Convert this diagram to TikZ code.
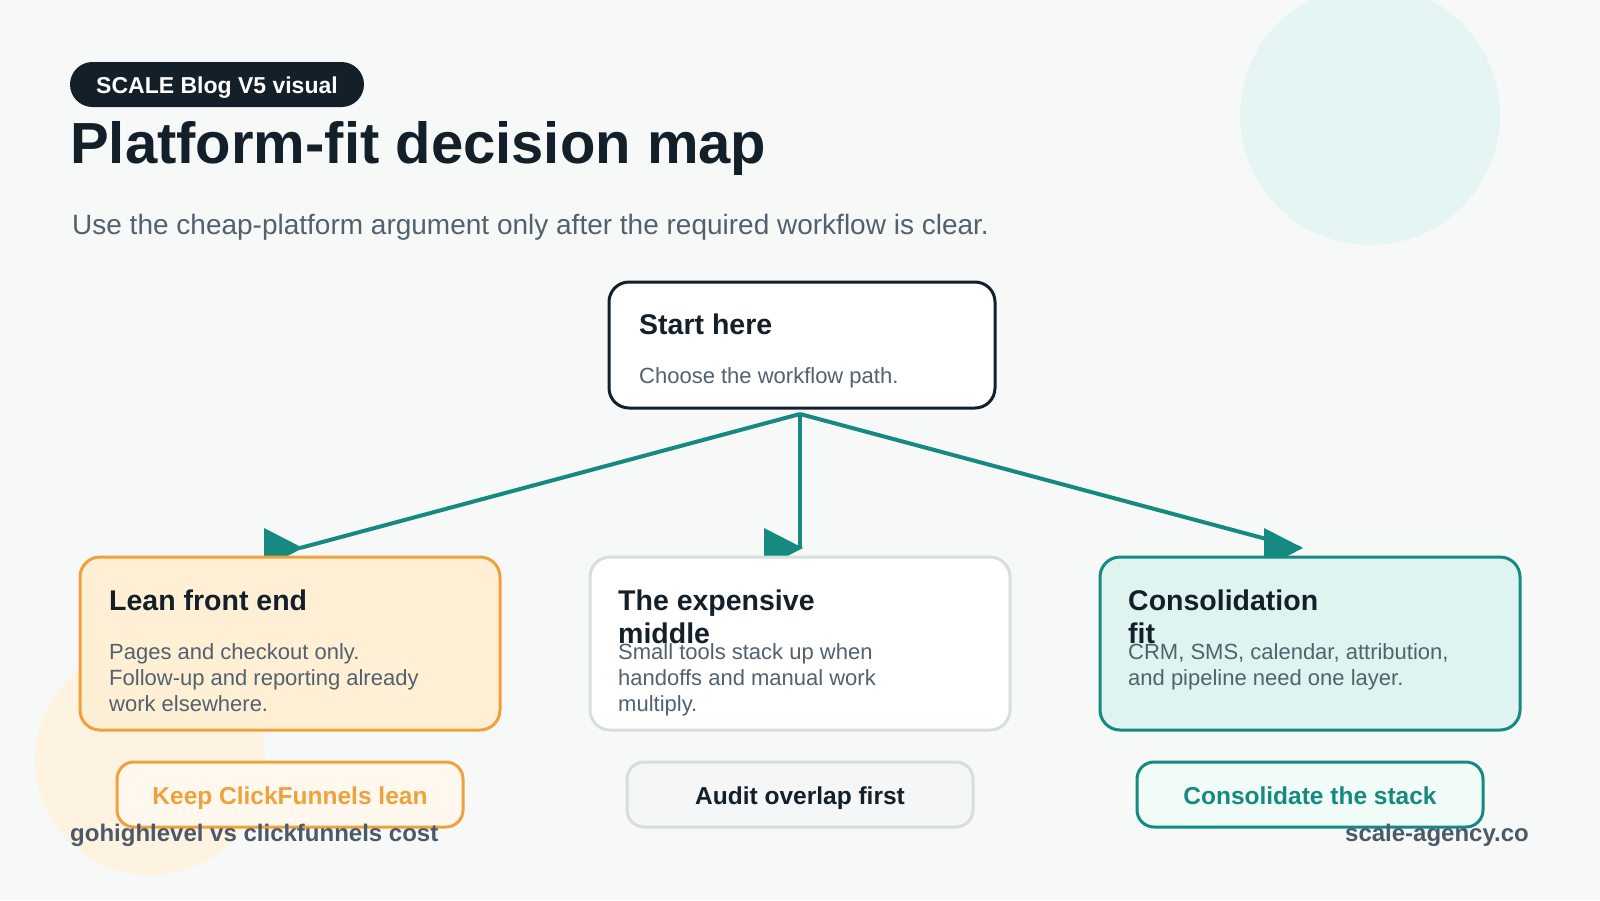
\documentclass[tikz,border=0pt]{standalone}
\usepackage{fontspec}
\setmainfont{Liberation Sans}
\usepackage{tikz}
\usetikzlibrary{calc,positioning}

\definecolor{bgpage}{HTML}{F7F9F9}
\definecolor{ink}{HTML}{13202A}
\definecolor{slate}{HTML}{52616E}
\definecolor{foot}{HTML}{4B5A68}
\definecolor{tealline}{HTML}{168A80}
\definecolor{amber}{HTML}{EFA23C}
\definecolor{amberfill}{HTML}{FFEFD4}
\definecolor{amberpill}{HTML}{FFF8EE}
\definecolor{mintfill}{HTML}{DFF4F0}
\definecolor{mintpill}{HTML}{F1FCF9}
\definecolor{mist}{HTML}{D6DFDD}
\definecolor{mistpill}{HTML}{F4F6F8}
\definecolor{bubbleA}{HTML}{E5F5F3}
\definecolor{bubbleB}{HTML}{FEF2E0}

\begin{document}
\begin{tikzpicture}[x=1pt,y=-1pt]
	\tikzstyle{card} = [draw, rounded corners=20pt, line width=3pt, minimum width=420pt, minimum height=173pt, inner sep=0pt]
	\tikzstyle{pill} = [draw, rounded corners=17pt, line width=3pt, minimum width=346pt, minimum height=65pt, inner sep=0pt, text height=24pt, text depth=5pt, font=\fontsize{24.5}{28}\selectfont\bfseries]
	\tikzstyle{head} = [anchor=base west, inner sep=0pt, align=left, text=ink, font=\fontsize{28.5}{33}\selectfont\bfseries]
	\tikzstyle{body} = [anchor=base west, inner sep=0pt, align=left, text=slate, font=\fontsize{22}{26}\selectfont]
	\tikzstyle{link} = [draw=tealline, line width=4pt]
% page and bubbles
\useasboundingbox (0,0) rectangle (1600,900);
\fill[bgpage] (0,0) rectangle (1600,900);
\fill[bubbleA] (1370,115) circle (130);
\fill[bubbleB] (150,760) circle (115);
% header
\node[fill=ink, text=white, rounded corners=22.5pt, minimum width=294pt, minimum height=45pt, inner sep=0pt, text height=21pt, text depth=4pt, font=\fontsize{23}{26}\selectfont\bfseries] (tag) at (217,84.5) {SCALE Blog V5 visual};
\node[anchor=base west, inner sep=0pt, text=ink, font=\fontsize{58}{64}\selectfont\bfseries] (title) at (70,163) {Platform-fit decision map};
\node[anchor=base west, inner sep=0pt, text=slate, font=\fontsize{28}{32}\selectfont] (sub) at (72,234) {Use the cheap-platform argument only after the required workflow is clear.};
% connectors
\coordinate (fork) at (800,414);
\coordinate (tipL) at (300,548);
\coordinate (tipM) at (800,548);
\coordinate (tipR) at (1300,548);
	\path[link] (fork) -- (tipL);
	\path[link] (fork) -- (tipM);
	\path[link] (fork) -- (tipR);
\foreach \t in {tipL,tipM,tipR}
	\fill[tealline] ($(\t)+(-36,-20)$) -- ($(\t)+(-36,20)$) -- ($(\t)+(3,0)$) -- cycle;
% start box
\node[card, draw=ink, fill=white, minimum width=386pt, minimum height=126pt] (start) at (802,345) {};
\node[head] (starthead) at (639,334) {Start here};
\node[body] (starttext) at (639,383) {Choose the workflow path.};
% three paths (base = last line)
\node[card, draw=amber, fill=amberfill] (lean) at (290,643.5) {};
\node[head] (leanhead) at (109,610) {Lean front end};
\node[body] (leantext) at (109,711) {Pages and checkout only.\\Follow-up and reporting already\\work elsewhere.};
\node[card, draw=mist, fill=white] (mid) at (800,643.5) {};
\node[head] (midhead) at (618,643) {The expensive\\middle};
\node[body] (midtext) at (618,711) {Small tools stack up when\\handoffs and manual work\\multiply.};
\node[card, draw=tealline, fill=mintfill] (fit) at (1310,643.5) {};
\node[head] (fithead) at (1128,643) {Consolidation\\fit};
\node[body] (fittext) at (1128,685) {CRM, SMS, calendar, attribution,\\and pipeline need one layer.};
% outcomes
\node[pill, draw=amber, fill=amberpill, text=amber] (keep) at (290,794.5) {Keep ClickFunnels lean};
\node[pill, draw=mist, fill=mistpill, text=ink] (audit) at (800,794.5) {Audit overlap first};
\node[pill, draw=tealline, fill=mintpill, text=tealline] (merge) at (1310,794.5) {Consolidate the stack};
% footer
\node[anchor=base west, inner sep=0pt, text=foot, font=\fontsize{24}{28}\selectfont\bfseries] (topic) at (70,841) {gohighlevel vs clickfunnels cost};
\node[anchor=base east, inner sep=0pt, text=foot, font=\fontsize{24}{28}\selectfont\bfseries] (site) at (1529,841) {scale-agency.co};
    \end{tikzpicture}
\end{document}
